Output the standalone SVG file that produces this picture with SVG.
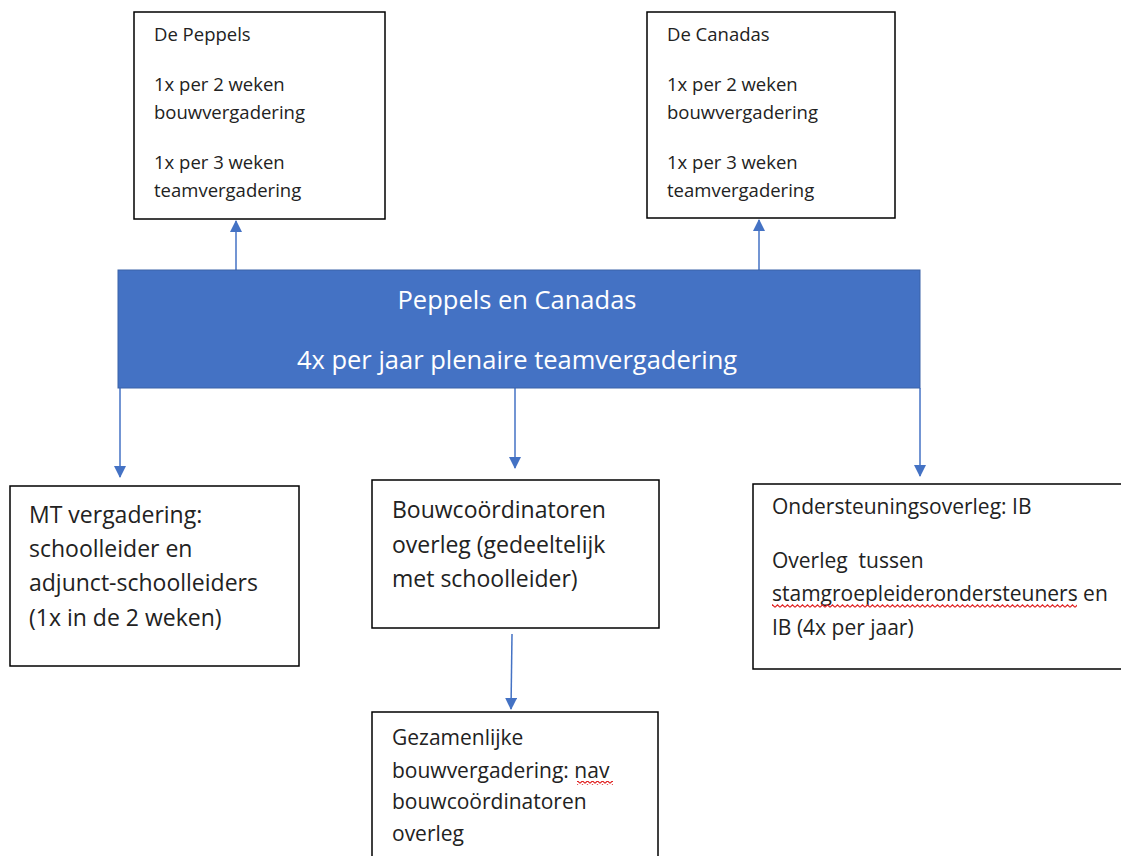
<svg xmlns="http://www.w3.org/2000/svg" width="1121" height="856" viewBox="0 0 1121 856">
<style>
.box{fill:#fff;stroke:#000;stroke-width:1.5}
.bar{fill:#4472C4;stroke:#3a62a8;stroke-width:1}
.t{font-family:"Open Sans","Noto Sans",sans-serif;fill:#222;white-space:pre}
.s18{font-size:18.5px}
.s21{font-size:21px}
.s23{font-size:23px}
.w{font-family:"Open Sans","Noto Sans",sans-serif;fill:#fff;font-size:25.5px;text-anchor:middle}
.c{stroke:#4472C4;stroke-width:1.5;fill:none}
</style>
<defs>
<marker id="ah" markerUnits="userSpaceOnUse" markerWidth="12" markerHeight="12" viewBox="0 0 12 12" refX="11" refY="6" orient="auto">
<path d="M0,0 L12,6 L0,12 z" fill="#4472C4"/>
</marker>
<pattern id="squig" patternUnits="userSpaceOnUse" x="0" y="0" width="5" height="4">
<path d="M0,3.3 L2.5,0.8 L5,3.3" stroke="#e02020" stroke-width="1.1" fill="none"/>
</pattern>
</defs>
<g id="connectors">
<line class="c" x1="236" y1="270" x2="236" y2="221" marker-end="url(#ah)"/>
<line class="c" x1="759" y1="270" x2="759" y2="220" marker-end="url(#ah)"/>
<line class="c" x1="120" y1="388" x2="120" y2="477" marker-end="url(#ah)"/>
<line class="c" x1="515" y1="388" x2="515" y2="468" marker-end="url(#ah)"/>
<line class="c" x1="920" y1="388" x2="920" y2="476" marker-end="url(#ah)"/>
<line class="c" x1="512" y1="634" x2="511" y2="709" marker-end="url(#ah)"/>
</g>
<g id="peppels">
<rect class="box" x="134" y="12" width="251" height="207"/>
<text class="t s18" x="154" y="41">De Peppels</text>
<text class="t s18" x="154" y="91">1x per 2 weken</text>
<text class="t s18" x="154" y="119">bouwvergadering</text>
<text class="t s18" x="154" y="169">1x per 3 weken</text>
<text class="t s18" x="154" y="197">teamvergadering</text>
</g>
<g id="canadas">
<rect class="box" x="647" y="12" width="248" height="206"/>
<text class="t s18" x="667" y="41">De Canadas</text>
<text class="t s18" x="667" y="91">1x per 2 weken</text>
<text class="t s18" x="667" y="119">bouwvergadering</text>
<text class="t s18" x="667" y="169">1x per 3 weken</text>
<text class="t s18" x="667" y="197">teamvergadering</text>
</g>
<g id="plenair">
<rect class="bar" x="118" y="270" width="802" height="118"/>
<text class="w" x="517" y="309">Peppels en Canadas</text>
<text class="w" x="517" y="369">4x per jaar plenaire teamvergadering</text>
</g>
<g id="mt">
<rect class="box" x="10" y="486" width="289" height="180"/>
<text class="t s23" x="29" y="523">MT vergadering:</text>
<text class="t s23" x="29" y="557">schoolleider en</text>
<text class="t s23" x="29" y="591">adjunct-schoolleiders</text>
<text class="t s23" x="29" y="626">(1x in de 2 weken)</text>
</g>
<g id="bouwcoordinatoren">
<rect class="box" x="372" y="480" width="287" height="148"/>
<text class="t s23" x="392" y="518">Bouwcoördinatoren</text>
<text class="t s23" x="392" y="553">overleg (gedeeltelijk</text>
<text class="t s23" x="392" y="587">met schoolleider)</text>
</g>
<g id="gezamenlijke">
<rect class="box" x="372" y="712" width="286" height="150"/>
<text class="t s21" x="392" y="745">Gezamenlijke</text>
<text class="t s21" x="392" y="778">bouwvergadering: nav</text>
<text class="t s21" x="392" y="809">bouwcoördinatoren</text>
<text class="t s21" x="392" y="841">overleg</text>
<rect x="577" y="781" width="36" height="4" fill="url(#squig)"/>
</g>
<g id="ondersteuning">
<rect class="box" x="753" y="484" width="372" height="185"/>
<text class="t s21" x="772" y="514">Ondersteuningsoverleg: IB</text>
<text class="t s21" x="772" y="568">Overleg  tussen</text>
<text class="t s21" x="772" y="601">stamgroepleiderondersteuners en</text>
<text class="t s21" x="772" y="635">IB (4x per jaar)</text>
<rect x="772" y="604" width="305" height="4" fill="url(#squig)"/>
</g>
</svg>
